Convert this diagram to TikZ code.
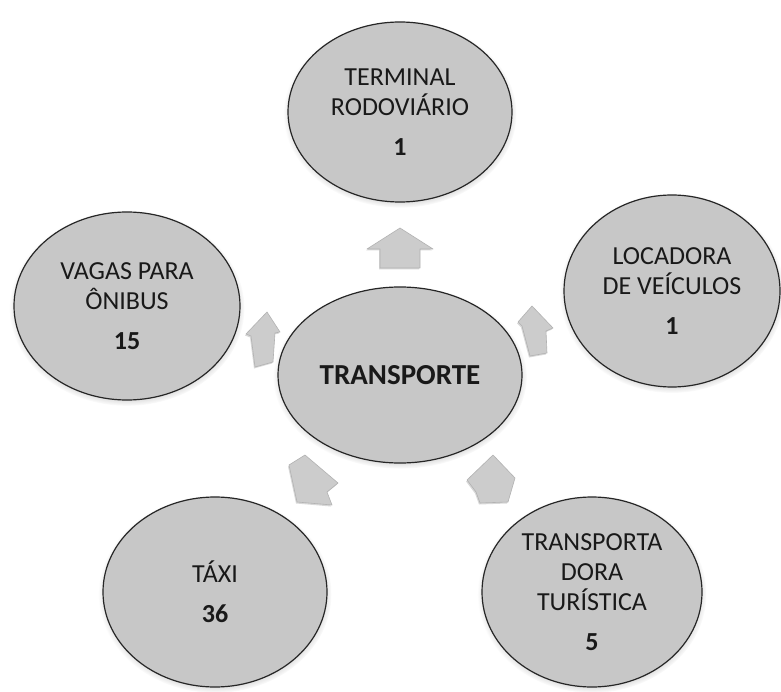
\documentclass[tikz,border=0pt]{standalone}
\usepackage{fontspec}
\setmainfont{Carlito}
\usetikzlibrary{shapes.geometric}
\usetikzlibrary{shadows}

\begin{document}
\begin{tikzpicture}[x=1pt,y=-1pt,
    bubble/.style={ellipse,draw=black!85,line width=1.2pt,fill=black!22,inner sep=0pt,
        align=center,text=black!90,font=\fontsize{26}{30}\selectfont,
        circular drop shadow={shadow scale=1.04,shadow xshift=0pt,shadow yshift=-2pt,opacity=0.55}},
    blockarrow/.style={fill=black!20,draw=black!30,line width=0.6pt,line join=round,
        drop shadow={shadow xshift=-1pt,shadow yshift=-1.5pt,opacity=0.3}}]
    
    % white page, same size as the scan
    \useasboundingbox[fill=white] (0,0) rectangle (781,692);
    
    % centre
    \node[bubble,minimum width=244pt,minimum height=176pt,font=\fontsize{29}{34}\selectfont\bfseries]
        (transp) at (400,375) {TRANSPORTE};
    
    % outer bubbles
    \node[bubble,minimum width=224pt,minimum height=180pt] (terminal) at (400,112)
        {TERMINAL\\RODOVIÁRIO\\[10pt]\textbf{1}};
    \node[bubble,minimum width=216pt,minimum height=192pt] (locadora) at (672,291)
        {LOCADORA\\DE VEÍCULOS\\[10pt]\textbf{1}};
    \node[bubble,minimum width=226pt,minimum height=188pt] (vagas) at (127,306)
        {VAGAS PARA\\ÔNIBUS\\[10pt]\textbf{15}};
    \node[bubble,minimum width=224pt,minimum height=190pt] (taxi) at (215,592)
        {TÁXI\\[10pt]\textbf{36}};
    \node[bubble,minimum width=220pt,minimum height=190pt] (turistica) at (592,592)
        {TRANSPORTA\\DORA\\TURÍSTICA\\[10pt]\textbf{5}};
    
    % block arrows round the centre
    \draw[blockarrow] (400,228) -- (433,249) -- (420,249) -- (420,268) -- (380,268) -- (380,249) -- (367,249) -- cycle;
    \draw[blockarrow] (267,312) -- (280,332) -- (275,333) -- (273,362) -- (255,367) -- (251,336) -- (246,334) -- cycle;
    \draw[blockarrow] (532,306) -- (553,328) -- (546,331) -- (547,353) -- (530,356) -- (522,326) -- (518,322) -- cycle;
    \draw[blockarrow] (289,465) -- (305,455) -- (338,483) -- (327,492) -- (332,505) -- (297,502) -- cycle;
    \draw[blockarrow] (467,480) -- (493,455) -- (515,478) -- (508,502) -- (480,503) -- (476,492) -- cycle;
    
\end{tikzpicture}
\end{document}
